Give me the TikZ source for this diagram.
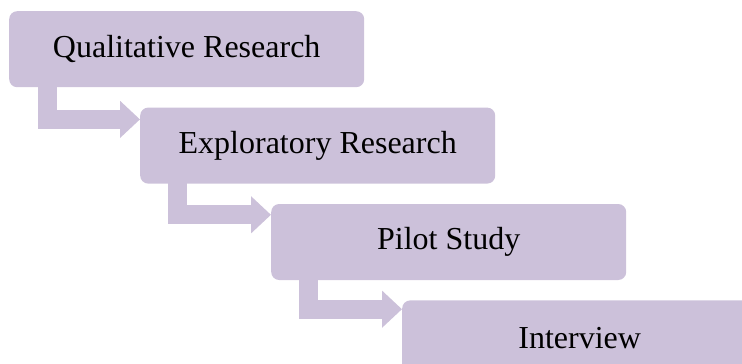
\documentclass[tikz,border=0pt]{standalone}
\usepackage{fontspec}
\setmainfont{Liberation Serif}
\usepackage{xcolor}
\usepackage{tikz}
\usetikzlibrary{positioning,arrows.meta,calc}
\definecolor{lavender}{RGB}{204,193,218}

\begin{document}
\begin{tikzpicture}[
    x=1bp, y=-1bp,
    font=\fontsize{32bp}{38bp}\selectfont,
    stage/.style={
        fill=lavender,
        rounded corners=8bp,
        minimum width=355bp,
        minimum height=76bp,
        anchor=north west,
        inner sep=0pt,
        align=center
    },
    elbow/.style={
        draw=lavender,
        line width=19bp,
        -{Triangle[width=36bp,length=20bp]}
    }
]
\clip (0,0) rectangle (742,363);

\node[stage] (qual) at (9,11) {Qualitative Research};
\node[stage] (expl) at ([xshift=131bp,yshift=-20bp]qual.south west) {Exploratory Research};
\node[stage] (pilot) at ([xshift=131bp,yshift=-20bp]expl.south west) {Pilot Study};
\node[stage] (intv) at ([xshift=131bp,yshift=-20bp]pilot.south west) {Interview};

% elbow arrows from one stage down to the next
\draw[elbow] ([xshift=38bp,yshift=4bp]qual.south west) |- ([yshift=-12bp]expl.north west);
\draw[elbow] ([xshift=37bp,yshift=4bp]expl.south west) |- ([yshift=-11bp]pilot.north west);
\draw[elbow] ([xshift=37bp,yshift=4bp]pilot.south west) |- ([yshift=-9bp]intv.north west);

\end{tikzpicture}
\end{document}
